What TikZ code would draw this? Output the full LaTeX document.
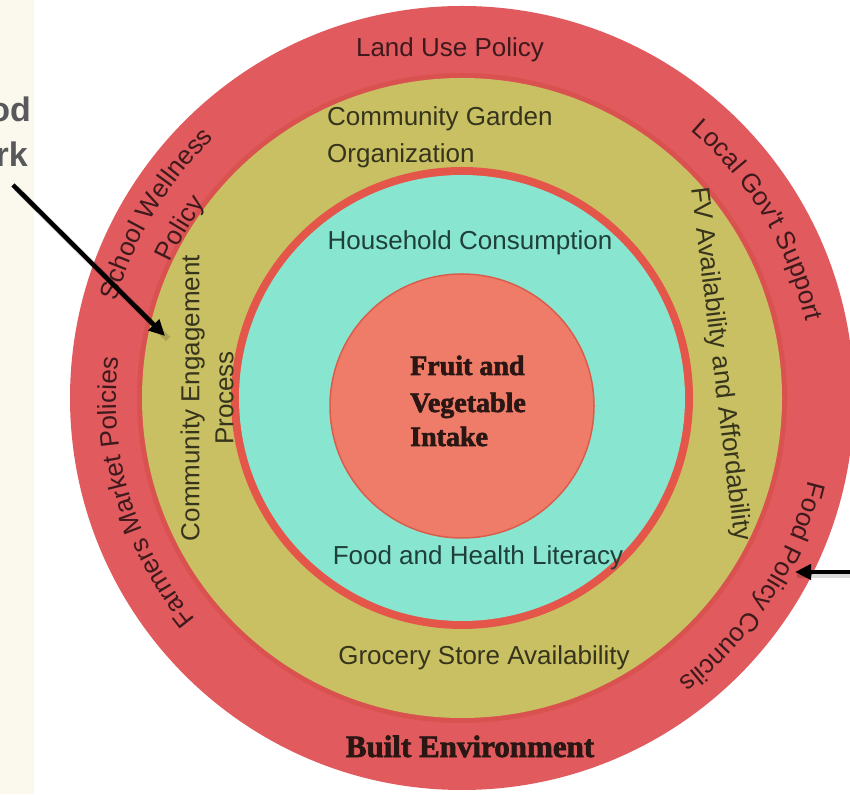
\documentclass[tikz,border=0pt]{standalone}
\usepackage{fontspec}
\setmainfont{Liberation Sans}
\newfontfamily\dispfont{Liberation Serif}[BoldFeatures={FakeBold=2.2}]
\usetikzlibrary{decorations.text,arrows.meta}
\definecolor{outerred}{HTML}{E05A5E}
\definecolor{ringred}{HTML}{E5564A}
\definecolor{bandred}{HTML}{DA5250}
\definecolor{olivec}{HTML}{C9C063}
\definecolor{tealc}{HTML}{88E6D0}
\definecolor{coralc}{HTML}{EE7C69}
\definecolor{coraledge}{HTML}{DC5C4C}
\definecolor{creamc}{HTML}{FBF9EE}
\definecolor{txtred}{HTML}{3E1A1C}
\definecolor{txtolive}{HTML}{36341C}
\definecolor{txtteal}{HTML}{1F3F3A}
\definecolor{txtdark}{HTML}{2A1714}
\definecolor{headgray}{HTML}{58595B}
\tikzset{
  lbl/.style={font=\fontsize{26}{34}\selectfont, inner sep=0pt},
  disp/.style={font=\dispfont\bfseries\fontsize{28}{36}\selectfont, text=txtdark, inner sep=0pt},
  ptr/.style={line width=4.5pt, black, -{Triangle[length=16pt,width=15pt]}},
  ptrshadow/.style={line width=6pt, black, opacity=0.15},
  arctext/.style={decorate, decoration={text along path, text align=center, text={#1}}}
}
\begin{document}
\begin{tikzpicture}[x=1pt,y=1pt]
\useasboundingbox (0,0) rectangle (850,794);
\clip (0,0) rectangle (850,794);
\fill[white] (0,0) rectangle (850,794);
\fill[creamc] (0,0) rectangle (34,794);

% heading fragments
\node[anchor=base east, inner sep=0pt, font=\bfseries\fontsize{34}{40}\selectfont, text=headgray] (h1) at (31,672) {od};
\node[anchor=base east, inner sep=0pt, font=\bfseries\fontsize{34}{40}\selectfont, text=headgray] (h2) at (28,627) {rk};

% rings
\coordinate (C) at (462,396);
\coordinate (Cin) at (462,388);
\fill[outerred] (C) circle[radius=392];
\fill[bandred] (C) circle[radius=325];
\fill[olivec] (C) circle[radius=320];
\fill[ringred] (C) circle[radius=231];
\fill[tealc] (C) circle[radius=223];
\filldraw[fill=coralc, draw=coraledge, line width=1.5pt] (Cin) circle[radius=132];

% outer ring labels
\node[lbl, anchor=base, text=txtred] (land) at (450,737) {Land Use Policy};
\path[arctext={|\fontsize{26}{30}\selectfont\color{txtred}|Local Gov{\textquotesingle}t Support}]
  (C) ++(59:352) arc[start angle=59, end angle=3, radius=352];
\path[arctext={|\fontsize{26}{30}\selectfont\color{txtred}|Food Policy Councils}]
  (C) ++(-5:356) arc[start angle=-5, end angle=-61, radius=356];
\path[arctext={|\fontsize{26}{30}\selectfont\color{txtred}|Farmers Market Policies}]
  (C) ++(227:346) arc[start angle=227, end angle=166, radius=346];
\path[arctext={|\fontsize{26}{30}\selectfont\color{txtred}|School Wellness}]
  (C) ++(172:359) arc[start angle=172, end angle=126, radius=359];
\path[arctext={|\fontsize{26}{30}\selectfont\color{txtred}|Policy}]
  (C) ++(165:322) arc[start angle=165, end angle=133, radius=322];
\node[disp, font=\dispfont\bfseries\fontsize{31}{36}\selectfont, anchor=base] (built) at (470,37) {Built Environment};

% olive ring labels
\node[lbl, anchor=base west, text=txtolive] (cg1) at (327,668) {Community Garden};
\node[lbl, anchor=base west, text=txtolive] (cg2) at (327,631) {Organization};
\node[lbl, align=center, rotate=90, text=txtolive] (cep) at (207,396) {Community Engagement\\Process};
\node[lbl, rotate=-83, text=txtolive] (fv) at (720,430) {FV Availability and Affordability};
\node[lbl, anchor=base, text=txtolive] (gsa) at (484,129) {Grocery Store Availability};

% teal labels
\node[lbl, anchor=base, text=txtteal] (hc) at (470,544) {Household Consumption};
\node[lbl, anchor=base, text=txtteal] (fhl) at (478,229) {Food and Health Literacy};

% centre
\node[disp, anchor=base west] (fv1) at (410,419) {Fruit and};
\node[disp, anchor=base west] (fv2) at (410,382) {Vegetable};
\node[disp, anchor=base west] (fv3) at (410,348) {Intake};

% pointers
\coordinate (a1s) at (13,609);
\coordinate (a1e) at (165,458);
\coordinate (a2s) at (852,222);
\coordinate (a2e) at (795,222);
\draw[ptrshadow] ([shift={(3,-3)}]a1s) -- ([shift={(3,-3)}]a1e);
\draw[ptrshadow] ([shift={(2,-3)}]a2s) -- ([shift={(2,-3)}]a2e);
\draw[ptr] (a1s) -- (a1e);
\draw[ptr] (a2s) -- (a2e);
\end{tikzpicture}
\end{document}
